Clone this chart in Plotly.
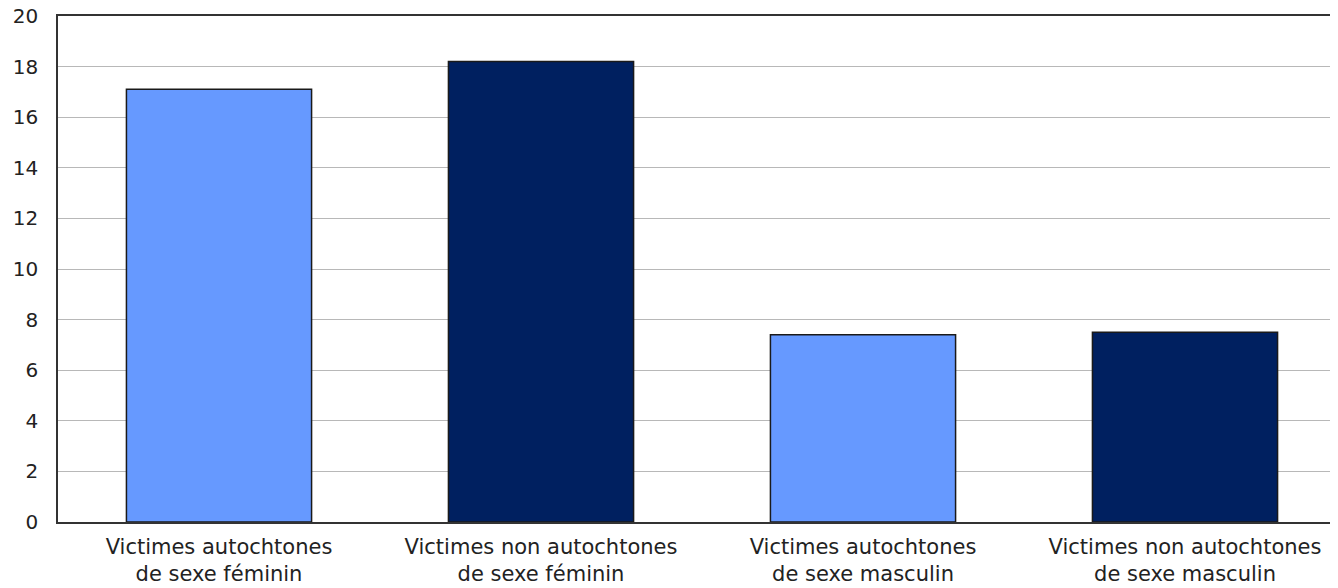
import plotly.graph_objects as go

categories = [
    "Victimes autochtones<br>de sexe féminin",
    "Victimes non autochtones<br>de sexe féminin",
    "Victimes autochtones<br>de sexe masculin",
    "Victimes non autochtones<br>de sexe masculin",
]
values = [17.1, 18.2, 7.4, 7.5]
colors = ["#6699FF", "#002060", "#6699FF", "#002060"]
y_ticks = [0, 2, 4, 6, 8, 10, 12, 14, 16, 18, 20]

fig = go.Figure(go.Bar(
    x=categories, y=values,
    marker=dict(color=colors, line=dict(color="#1a1a1a", width=1.5)),
    hoverinfo="skip",
))

fig.update_layout(
    width=1338, height=588,
    margin=dict(l=50, r=0, t=8, b=74, autoexpand=False),
    paper_bgcolor="white", plot_bgcolor="white",
    bargap=0.425,
    showlegend=False,
    font=dict(family="DejaVu Sans, Verdana, sans-serif", size=20, color="#222222"),
)
fig.update_xaxes(
    showline=True, linecolor="#333333", linewidth=1.5, mirror=True,
    showgrid=False, ticks="outside", ticklen=5, tickcolor="rgba(0,0,0,0)",
    tickfont=dict(size=21), automargin=False,
)
fig.update_yaxes(
    range=[0, 20], tickvals=y_ticks, showline=True, linecolor="#333333", linewidth=1.5,
    mirror=True, showgrid=True, gridcolor="#b8b8b8", gridwidth=1,
    ticks="outside", ticklen=14, tickcolor="rgba(0,0,0,0)", zeroline=False,
    tickfont=dict(size=20), ticklabeloverflow="allow", automargin=False,
)

fig.write_html("out.html")
